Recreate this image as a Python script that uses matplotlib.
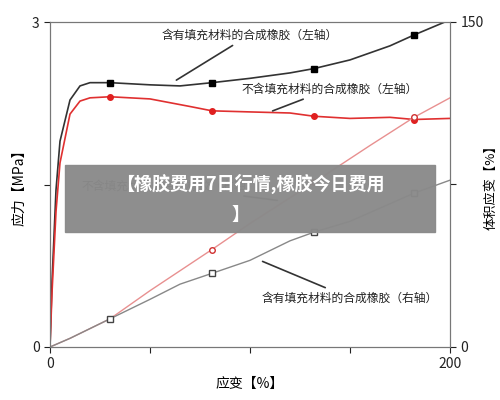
import matplotlib.pyplot as plt
from matplotlib.patches import Rectangle

plt.rcParams['font.family'] = ['Noto Sans CJK SC', 'DejaVu Sans']

# strain [%] vs stress [MPa] (left axis)
filled_x = [0, 1, 3, 5, 10, 15, 20, 30, 50, 65, 81, 100, 120, 132, 150, 170, 182, 200]
filled_y = [0, 0.6, 1.45, 1.90, 2.28, 2.41, 2.44, 2.44, 2.42, 2.41, 2.44, 2.48, 2.53, 2.57, 2.65, 2.78, 2.88, 3.02]
plain_x = [0, 1, 3, 5, 10, 15, 20, 30, 50, 70, 81, 100, 120, 132, 150, 170, 182, 200]
plain_y = [0, 0.5, 1.25, 1.70, 2.15, 2.27, 2.30, 2.31, 2.29, 2.22, 2.18, 2.17, 2.16, 2.13, 2.11, 2.12, 2.10, 2.11]

# strain [%] vs volume strain [%] (right axis)
vol_plain_x = [0, 10, 30, 50, 81, 100, 132, 160, 182, 200]
vol_plain_y = [0, 4, 13, 26, 45, 57, 76, 93, 106, 115]
vol_filled_x = [0, 10, 30, 50, 65, 81, 100, 120, 132, 150, 182, 200]
vol_filled_y = [0, 4, 13, 22, 29, 34, 40, 49, 53, 58, 71, 77]

mark_x = [30, 81, 132, 182]


def at(xs, ys, x):
    return ys[xs.index(x)]


fig = plt.figure(figsize=(5, 4), dpi=100)
ax = fig.add_axes([0.1, 0.1325, 0.8, 0.8125])
ax2 = ax.twinx()

ax.plot(filled_x, filled_y, color='#333333', lw=1.2)
ax.plot(mark_x, [at(filled_x, filled_y, m) for m in mark_x], 's', color='black', ms=4)
ax.plot(plain_x, plain_y, color='#e03030', lw=1.2)
ax.plot(mark_x, [at(plain_x, plain_y, m) for m in mark_x], 'o', color='#e02020', ms=4)

ax2.plot(vol_plain_x, vol_plain_y, color='#e89090', lw=1.0)
ax2.plot(mark_x, [at(vol_plain_x, vol_plain_y, m) for m in mark_x], 'o', mfc='white', mec='#d03030', ms=4)
ax2.plot(vol_filled_x, vol_filled_y, color='#888888', lw=1.0)
ax2.plot(mark_x, [at(vol_filled_x, vol_filled_y, m) for m in mark_x], 's', mfc='white', mec='#444444', ms=4)

ax.set_xlim(0, 200)
ax.set_ylim(0, 3)
ax2.set_ylim(0, 150)
ax.set_xticks([0, 50, 100, 150, 200], ['0', '', '', '', '200'])
ax.set_yticks([0, 1.5, 3], ['0', '', '3'])
ax2.set_yticks([0, 75, 150], ['0', '', '150'])
for a in (ax, ax2):
    a.tick_params(labelsize=10, colors='#222222', direction='out', length=4)
    for s in a.spines.values():
        s.set_color('#777777')
ax.set_xlabel('应变【%】', fontsize=10)
ax.set_ylabel('应力【MPa】', fontsize=10)
ax2.set_ylabel('体积应变【%】', fontsize=9.5, labelpad=1)

kw = dict(fontsize=8.5, color='#222222')
ax.annotate('含有填充材料的合成橡胶（左轴）', xy=(62, 2.45), xytext=(100, 2.85), ha='center',
            arrowprops=dict(arrowstyle='-', color='#333333', lw=1.2), **kw)
ax.annotate('不含填充材料的合成橡胶（左轴）', xy=(110, 2.17), xytext=(140, 2.35), ha='center',
            arrowprops=dict(arrowstyle='-', color='#333333', lw=1.2), **kw)
ax.annotate('不含填充材料的合成橡胶（右轴）', xy=(115, 1.35), xytext=(60, 1.45), ha='center',
            arrowprops=dict(arrowstyle='-', color='#333333', lw=1.2), **kw)
ax.annotate('含有填充材料的合成橡胶（右轴）', xy=(105, 0.8), xytext=(150, 0.42), ha='center',
            arrowprops=dict(arrowstyle='-', color='#333333', lw=1.2), **kw)

# grey banner over the chart
fig.patches.append(Rectangle((0.13, 0.42), 0.74, 0.168, transform=fig.transFigure,
                             color='#8a8a8a', alpha=0.97, zorder=10))
fig.text(0.5, 0.541, '【橡胶费用7日行情,橡胶今日费用', ha='center', va='center',
         fontsize=13, fontweight='bold', color='white', zorder=11)
fig.text(0.48, 0.465, '】', ha='center', va='center',
         fontsize=13, fontweight='bold', color='white', zorder=11)

fig.savefig('out.png', dpi=100)
